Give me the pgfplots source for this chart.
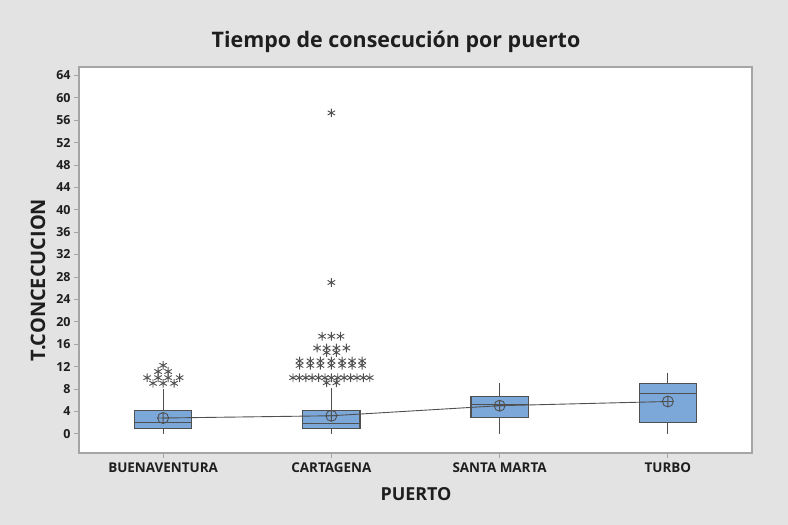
\documentclass[border=0pt]{standalone}
\usepackage{pgfplots}
\pgfplotsset{compat=1.18}
\usepgfplotslibrary{statistics}
\usepackage{fontspec}
\setmainfont{Open Sans}
\definecolor{bg}{RGB}{227,227,227}
\definecolor{boxfill}{RGB}{123,167,217}
\definecolor{edge}{RGB}{80,80,80}
\definecolor{framec}{RGB}{165,165,165}
\definecolor{txt}{RGB}{30,30,30}

\begin{document}
\begin{tikzpicture}
\fill[bg] (0,0) rectangle (788bp,525bp);
\begin{axis}[
  at={(79bp,72bp)}, anchor=south west, scale only axis,
  width=673bp, height=386bp,
  xmin=0.5, xmax=4.5, ymin=-3.45, ymax=65.5,
  boxplot/draw direction=y,
  axis background/.style={fill=white},
  axis line style={framec, line width=1.2pt},
  xtick={1,2,3,4},
  xticklabels={BUENAVENTURA,CARTAGENA,SANTA MARTA,TURBO},
  ytick={0,4,...,64},
  tick align=outside, tick pos=left,
  major tick length=5bp,
  tick style={framec, line width=0.8pt},
  /pgf/number format/assume math mode=true,
  x tick label style={font=\bfseries\fontsize{13.5}{15}\selectfont, text=txt, yshift=-1bp},
  y tick label style={font=\bfseries\fontsize{12.5}{14}\selectfont, text=txt},
  clip=false,
]
% boxes: Buenaventura, Cartagena, Santa Marta, Turbo
\addplot[boxplot prepared={draw position=1, lower whisker=0, lower quartile=1,
  median=2, upper quartile=4.1, upper whisker=8, box extend=0.34, whisker extend=0},
  draw=edge, fill=boxfill, line width=1.1pt] coordinates {};
\addplot[boxplot prepared={draw position=2, lower whisker=0, lower quartile=0.95,
  median=1.75, upper quartile=4.1, upper whisker=8.1, box extend=0.34, whisker extend=0},
  draw=edge, fill=boxfill, line width=1.1pt] coordinates {};
\addplot[boxplot prepared={draw position=3, lower whisker=0, lower quartile=2.9,
  median=5.2, upper quartile=6.6, upper whisker=9, box extend=0.34, whisker extend=0},
  draw=edge, fill=boxfill, line width=1.1pt] coordinates {};
\addplot[boxplot prepared={draw position=4, lower whisker=0, lower quartile=2,
  median=7.1, upper quartile=9, upper whisker=10.9, box extend=0.34, whisker extend=0},
  draw=edge, fill=boxfill, line width=1.1pt] coordinates {};
% means, connected
\addplot[edge, line width=0.9pt, mark=oplus, mark size=5.5bp,
  mark options={fill opacity=0, line width=0.9pt}]
  coordinates {(1,2.8) (2,3.2) (3,5.0) (4,5.75)};
% outliers
\addplot[only marks, mark=asterisk, mark size=4.3bp, edge,
  mark options={line width=0.9pt}] coordinates {
  (1,12.2)
  (0.970,11.1) (1.030,11.1)
  (0.905,10) (0.970,10) (1.030,10) (1.098,10)
  (0.940,9) (1,9) (1.065,9)
  (2,57.3) (2,27)
  (1.945,17.4) (2,17.4) (2.054,17.4)
  (1.915,15.3) (1.972,15.3) (2.030,15.3) (2.089,15.3)
  (1.972,14.5) (2.030,14.5)
  (1.811,13) (1.875,13) (1.935,13) (2,13) (2.064,13) (2.123,13) (2.183,13)
  (1.811,12.2) (1.875,12.2) (1.935,12.2) (2,12.2) (2.064,12.2) (2.123,12.2) (2.183,12.2)
  (1.772,10) (1.810,10) (1.848,10) (1.886,10) (1.924,10) (1.962,10) (2,10)
  (2.038,10) (2.076,10) (2.114,10) (2.152,10) (2.190,10) (2.228,10)
  (1.972,9.1) (2.030,9.1)
};
\end{axis}
\node[font=\bfseries\fontsize{21.5}{24}\selectfont, text=txt] at (396bp,483bp)
  {Tiempo de consecución por puerto};
\node[font=\bfseries\fontsize{20}{22}\selectfont, text=txt, rotate=90] at (38bp,245bp)
  {T.CONCECUCION};
\node[font=\bfseries\fontsize{18}{20}\selectfont, text=txt] at (416bp,31bp)
  {PUERTO};
\end{tikzpicture}
\end{document}
